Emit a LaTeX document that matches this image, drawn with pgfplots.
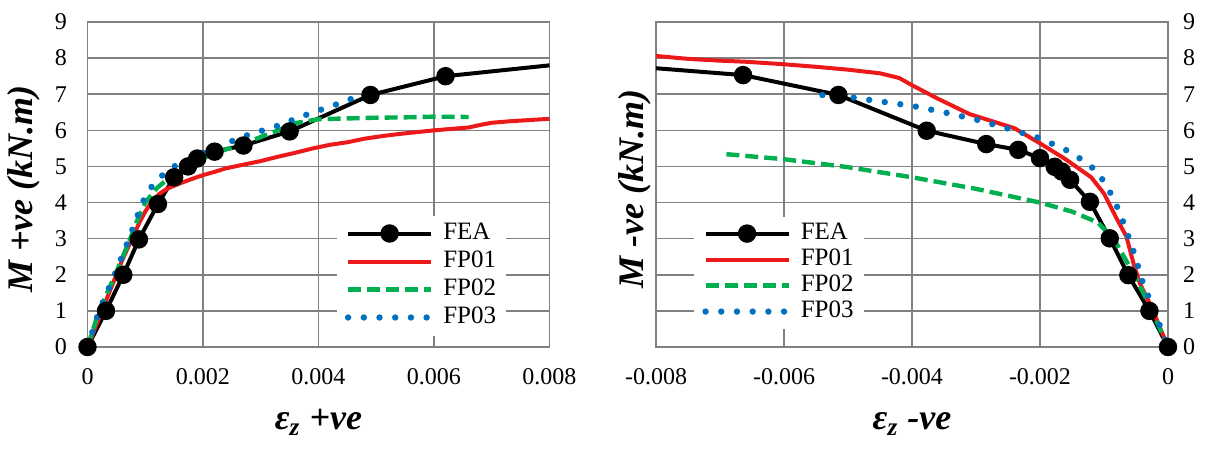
\documentclass[border=0pt]{standalone}
\usepackage{fontspec}
\setmainfont{Liberation Serif}
\usepackage{pgfplots}
\pgfplotsset{compat=1.18}
\definecolor{fred}{RGB}{235,25,25}
\definecolor{fgreen}{RGB}{0,176,80}
\definecolor{fblue}{RGB}{0,112,192}
\definecolor{fgrid}{RGB}{128,128,128}
\pgfplotsset{
  legend image code/.code={\draw[mark repeat=2,mark phase=2,#1] plot coordinates {(0pt,0pt) (20.75pt,0pt) (41.5pt,0pt)};},
  common/.style={
    scale only axis, clip=false,
    height=162.5pt,
    ymin=0, ymax=9, ytick={0,1,2,3,4,5,6,7,8,9},
    yticklabels={0,1,2,3,4,5,6,7,8,9},
    scaled x ticks=false,
    grid=major, major grid style={fgrid, line width=0.75pt},
    axis line style={fgrid, line width=0.75pt},
    major tick length=0pt,
    tick label style={font=\fontsize{12}{14}\selectfont},
    label style={font=\fontsize{18}{21}\selectfont\bfseries\itshape},
    x label style={at={(axis description cs:0.5,-0.255)}, anchor=base},
    xticklabel style={yshift=-7pt},
    legend cell align=left,
    legend style={draw=none, fill=white, font=\fontsize{12.5}{14}\selectfont,
      inner xsep=4pt, inner ysep=2pt, column sep=3.5pt,
      nodes={inner sep=1pt, text height=9pt, text depth=3pt}},
  },
  feal/.style={black, line width=2pt, mark=*, mark size=3.6pt, mark options={solid, fill=black}},
  fea/.style={feal, forget plot},
  fp1/.style={fred, line width=2pt, no marks},
  fp2/.style={fgreen, line width=2.2pt, no marks, dash pattern=on 6.5pt off 3pt},
  fp3/.style={fblue, line width=3.2pt, no marks, line cap=round, dash pattern=on 0pt off 7.85pt},
}
\begin{document}
\begin{tikzpicture}
\useasboundingbox (0,0) rectangle (605pt,225pt);
% ---------------- left (+ve) ----------------
\begin{axis}[common,
  at={(43.75pt,51.5pt)}, anchor=south west, width=231pt,
  xmin=0, xmax=0.008,
  xtick={0,0.002,0.004,0.006,0.008},
  xticklabels={0,0.002,0.004,0.006,0.008},
  yticklabel style={xshift=-6.75pt},
  xlabel={ε\textsubscript{z} +ve},
  ylabel={M +ve (kN.m)},
  y label style={at={(axis description cs:-0.1374,0.486)}, anchor=center},
  legend style={at={(0.723,0.22)}, anchor=center},
]
\addlegendimage{feal}
\addlegendentry{FEA}
\addplot[fea, mark indices={1,2,3,4,5,6,7,8,9,10,11,12,13}] coordinates {
(0,0) (0.00032,1.0) (0.00062,2.0) (0.00089,2.98) (0.00122,3.96) (0.0015,4.7)
(0.00174,5.0) (0.0019,5.22) (0.0022,5.41) (0.0027,5.58) (0.0035,5.97)
(0.0049,6.98) (0.0062,7.5) (0.008,7.8)};
\addplot[fp1] coordinates {
(0,0) (0.0001,0.4) (0.0002,0.8) (0.0003,1.2) (0.0004,1.6) (0.0005,2.0) (0.0006,2.4)
(0.0007,2.75) (0.0008,3.1) (0.0009,3.45) (0.001,3.75) (0.0011,4.0) (0.00125,4.25)
(0.0014,4.4) (0.0016,4.53) (0.0018,4.65) (0.002,4.76) (0.0022,4.85) (0.0024,4.95)
(0.0027,5.05) (0.003,5.15) (0.0033,5.27) (0.0036,5.38) (0.0039,5.5) (0.0042,5.6)
(0.0045,5.67) (0.0048,5.77) (0.0051,5.84) (0.0054,5.9) (0.0057,5.95) (0.006,6.0)
(0.0063,6.04) (0.0066,6.08) (0.0068,6.15) (0.007,6.21) (0.0073,6.25) (0.0076,6.28) (0.008,6.32)};
\addlegendentry{FP01}
\addplot[fp2] coordinates {
(0,0) (0.0002,1) (0.00048,2) (0.00074,3) (0.00086,3.5) (0.001,4) (0.0012,4.4)
(0.0015,4.8) (0.0018,5.08) (0.0022,5.37) (0.0027,5.63) (0.0033,6.0) (0.0036,6.2)
(0.004,6.31) (0.0045,6.33) (0.005,6.35) (0.0055,6.36) (0.006,6.38) (0.0066,6.37)};
\addlegendentry{FP02}
\addplot[fp3] coordinates {
(0,0) (0.0002,1) (0.00047,2) (0.00072,3) (0.00095,4) (0.0011,4.42) (0.0013,4.76)
(0.0015,5.0) (0.00175,5.18) (0.002,5.38) (0.0023,5.57) (0.0027,5.83) (0.003,5.98)
(0.0033,6.13) (0.0037,6.38) (0.0042,6.66) (0.0045,6.82) (0.0047,6.98)};
\addlegendentry{FP03}
\end{axis}
% ---------------- right (-ve) ----------------
\begin{axis}[common,
  at={(328pt,51.5pt)}, anchor=south west, width=256pt,
  xmin=-0.008, xmax=0,
  xtick={-0.008,-0.006,-0.004,-0.002,0},
  xticklabels={-0.008,-0.006,-0.004,-0.002,0},
  yticklabel pos=right,
  yticklabel style={xshift=4pt},
  xlabel={ε\textsubscript{z} -ve},
  ylabel={M -ve (kN.m)},
  y label style={at={(axis description cs:-0.041,0.486)}, anchor=center},
  legend style={at={(0.2402,0.229)}, anchor=center,
    nodes={inner sep=1pt, text height=8.5pt, text depth=2.5pt}},
]
\addlegendimage{feal}
\addlegendentry{FEA}
\addplot[fea, mark indices={2,3,4,5,6,7,8,9,10,11,12,13,14,15}] coordinates {
(-0.008,7.72) (-0.00664,7.53) (-0.00515,6.98) (-0.00377,5.99) (-0.00284,5.62)
(-0.00234,5.46) (-0.002,5.23) (-0.00177,4.99) (-0.00166,4.86) (-0.00153,4.63)
(-0.00122,4.02) (-0.00091,3.01) (-0.00062,1.99) (-0.00029,1.0) (0,0)};
\addplot[fp1] coordinates {
(-0.008,8.06) (-0.0075,7.98) (-0.007,7.93) (-0.0066,7.9) (-0.006,7.83) (-0.0055,7.76)
(-0.005,7.68) (-0.0045,7.58) (-0.0042,7.45) (-0.004,7.25) (-0.0036,6.88)
(-0.0031,6.45) (-0.0024,6.06) (-0.002,5.64) (-0.0016,5.2) (-0.0012,4.7)
(-0.001,4.25) (-0.0008,3.55) (-0.00065,3.06) (-0.00054,2.32) (-0.00044,1.76)
(-0.00026,1.12) (0,0)};
\addlegendentry{FP01}
\addplot[fp2] coordinates {
(-0.0069,5.34) (-0.006,5.2) (-0.005,4.98) (-0.004,4.7) (-0.003,4.38) (-0.002,4.0)
(-0.0015,3.75) (-0.0011,3.45) (-0.00085,3.0) (-0.00054,2.04) (-0.00028,1.12) (0,0)};
\addlegendentry{FP02}
\addplot[fp3] coordinates {
(-0.0054,6.98) (-0.005,6.93) (-0.0045,6.8) (-0.004,6.68) (-0.0035,6.5) (-0.003,6.3)
(-0.0025,6.05) (-0.002,5.78) (-0.0015,5.38) (-0.0011,4.86) (-0.00085,4.12)
(-0.00067,3.33) (-0.00052,2.55) (-0.00039,1.76) (-0.00023,1.07) (0,0)};
\addlegendentry{FP03}
\end{axis}
\end{tikzpicture}
\end{document}
